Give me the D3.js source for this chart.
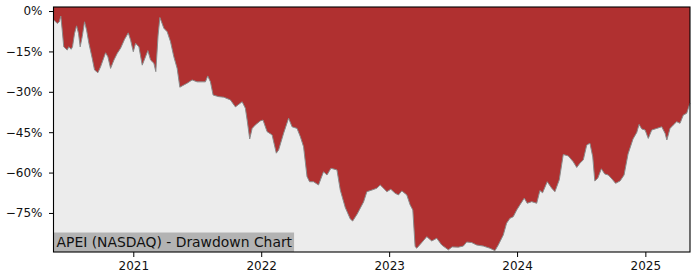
<!DOCTYPE html>
<html>
<head>
<meta charset="utf-8">
<script src="https://cdn.jsdelivr.net/npm/d3@7"></script>
<style>
  html, body { margin: 0; padding: 0; background: #ffffff; }
  svg { display: block; }
  text { font-family: "DejaVu Sans", sans-serif; }
</style>
</head>
<body>
<svg id="chart" width="700" height="280"></svg>
<script>
// Decimal-year dates of sampled points
const dates = [
  2020.380, 2020.407, 2020.423, 2020.435, 2020.446, 2020.458, 2020.485, 2020.497, 2020.516, 2020.526,
  2020.542, 2020.558, 2020.573, 2020.586, 2020.602, 2020.620, 2020.636, 2020.654, 2020.680, 2020.698,
  2020.724, 2020.745, 2020.784, 2020.802, 2020.823, 2020.849, 2020.875, 2020.901, 2020.932, 2020.961,
  2020.979, 2021.000, 2021.018, 2021.044, 2021.070, 2021.114, 2021.135, 2021.161, 2021.176, 2021.194,
  2021.208, 2021.239, 2021.265, 2021.291, 2021.317, 2021.343, 2021.364, 2021.382, 2021.421, 2021.460,
  2021.499, 2021.538, 2021.564, 2021.582, 2021.603, 2021.624, 2021.668, 2021.707, 2021.759, 2021.798,
  2021.851, 2021.876, 2021.890, 2021.910, 2021.929, 2021.954, 2021.993, 2022.014, 2022.046, 2022.085,
  2022.118, 2022.136, 2022.175, 2022.214, 2022.241, 2022.280, 2022.306, 2022.331, 2022.358, 2022.378,
  2022.409, 2022.448, 2022.487, 2022.514, 2022.545, 2022.592, 2022.618, 2022.657, 2022.696, 2022.715,
  2022.750, 2022.800, 2022.826, 2022.865, 2022.904, 2022.930, 2022.956, 2022.982, 2023.013, 2023.047,
  2023.073, 2023.099, 2023.138, 2023.164, 2023.185, 2023.203, 2023.216, 2023.255, 2023.294, 2023.333,
  2023.372, 2023.411, 2023.463, 2023.492, 2023.541, 2023.580, 2023.606, 2023.645, 2023.684, 2023.736,
  2023.788, 2023.827, 2023.853, 2023.892, 2023.918, 2023.944, 2023.970, 2023.997, 2024.022, 2024.056,
  2024.079, 2024.114, 2024.153, 2024.178, 2024.199, 2024.235, 2024.270, 2024.295, 2024.329, 2024.360,
  2024.399, 2024.438, 2024.465, 2024.490, 2024.516, 2024.543, 2024.568, 2024.590, 2024.606, 2024.629,
  2024.657, 2024.683, 2024.711, 2024.740, 2024.768, 2024.803, 2024.834, 2024.865, 2024.904, 2024.933,
  2024.951, 2024.972, 2024.998, 2025.023, 2025.050, 2025.089, 2025.128, 2025.154, 2025.168, 2025.193,
  2025.219, 2025.245, 2025.271, 2025.297, 2025.323, 2025.336, 2025.349
];
// Drawdown in percent
const drawdown = [
  -3.3, -4.6, -4.0, -1.9, -7.1, -13.3, -14.5, -13.3, -14.2, -13.3,
  -8.3, -5.5, -8.3, -13.3, -9.5, -4.0, -7.1, -12.0, -17.6, -21.9,
  -22.9, -20.7, -15.5, -17.0, -21.3, -18.2, -15.7, -13.8, -10.5, -8.1,
  -10.8, -15.1, -12.0, -13.3, -20.1, -14.7, -18.2, -19.4, -22.5, -8.9,
  -2.4, -6.4, -7.7, -11.4, -17.0, -21.3, -28.3, -27.8, -26.8, -25.6,
  -26.3, -26.3, -26.3, -24.1, -26.3, -31.2, -31.8, -32.0, -33.0, -35.6,
  -33.7, -36.1, -40.5, -47.5, -43.6, -42.3, -40.8, -40.5, -44.8, -46.0,
  -52.8, -51.6, -45.4, -39.8, -43.0, -43.6, -46.7, -50.4, -61.5, -63.4,
  -63.4, -64.6, -59.7, -60.9, -58.4, -59.0, -66.5, -73.0, -77.2, -78.0,
  -75.4, -70.9, -67.1, -66.5, -65.8, -64.6, -65.8, -67.1, -66.2, -67.7,
  -68.3, -66.8, -68.3, -72.0, -73.9, -87.5, -88.1, -86.0, -83.8, -85.4,
  -84.4, -86.9, -88.7, -87.6, -87.7, -87.3, -85.8, -86.0, -86.9, -87.3,
  -88.1, -89.0, -86.9, -83.2, -78.8, -77.0, -76.4, -73.9, -72.0, -69.5,
  -71.4, -70.8, -71.4, -66.7, -67.5, -63.4, -65.8, -67.1, -62.7, -53.3,
  -53.8, -56.0, -58.1, -56.5, -55.3, -49.8, -49.1, -54.2, -63.1, -62.1,
  -58.6, -60.5, -60.9, -62.4, -64.0, -63.1, -60.9, -53.1, -47.5, -45.1,
  -42.1, -43.8, -44.2, -47.3, -44.2, -43.6, -43.0, -45.4, -47.9, -43.6,
  -42.3, -41.1, -41.7, -38.6, -38.0, -36.1, -34.2
];
const yTicks = [0, -15, -30, -45, -60, -75];
const xTickYears = [2021, 2022, 2023, 2024, 2025];
const yDomain = [-89.5, 1.5];
const xStart = 2020.378, xEnd = 2025.349;
const title = "APEI (NASDAQ) - Drawdown Chart";

function toDate(t) {
  const y = Math.floor(t);
  const s = new Date(y, 0, 1), e = new Date(y + 1, 0, 1);
  return new Date(+s + (t - y) * (e - s));
}

const data = dates.map((d, i) => ({ date: toDate(d), v: drawdown[i] }));

const L = 53.5, R = 690, T = 7, B = 252;
const svg = d3.select("#chart");

const x = d3.scaleTime().domain([toDate(xStart), toDate(xEnd)]).range([L, R]);
const y = d3.scaleLinear().domain(yDomain).range([B, T]);

// Red background of the plot area
svg.append("rect").attr("x", L).attr("y", T).attr("width", R - L).attr("height", B - T)
  .attr("fill", "#b03030");

// Light gray area below the drawdown curve
const area = d3.area().x(d => x(d.date)).y0(B).y1(d => y(d.v));
svg.append("path").datum(data).attr("d", area).attr("fill", "#ececec");

const line = d3.line().x(d => x(d.date)).y(d => y(d.v));
svg.append("path").datum(data).attr("d", line).attr("fill", "none")
  .attr("stroke", "#8a8a8a").attr("stroke-width", 1);

// Title box
const tg = svg.append("g");
const tt = tg.append("text").attr("x", L + 3).attr("y", B - 5.3)
  .attr("font-size", 13.9).attr("fill", "#111").text(title);
const tw = tt.node().getComputedTextLength();
tg.insert("rect", "text").attr("x", L).attr("y", B - 19.5).attr("width", tw + 5).attr("height", 19.5)
  .attr("fill", "#b3b3b3");

// Axes
const yAxis = d3.axisLeft(y).tickValues(yTicks).tickSize(4.5).tickPadding(6.5)
  .tickFormat(d => d3.format("d")(d) + "%");
const gy = svg.append("g").attr("transform", `translate(${L},0)`).call(yAxis);
gy.select(".domain").remove();
gy.selectAll("text").attr("font-size", 12).attr("fill", "#111").attr("font-family", "DejaVu Sans");

const xAxis = d3.axisBottom(x).tickValues(xTickYears.map(yr => new Date(yr, 0, 1)))
  .tickSize(5).tickPadding(4).tickFormat(d3.timeFormat("%Y"));
const gx = svg.append("g").attr("transform", `translate(0,${B})`).call(xAxis);
gx.select(".domain").remove();
gx.selectAll("text").attr("font-size", 12).attr("fill", "#111").attr("font-family", "DejaVu Sans");

// Frame
svg.append("rect").attr("x", L).attr("y", T).attr("width", R - L).attr("height", B - T)
  .attr("fill", "none").attr("stroke", "#000").attr("stroke-width", 1.1);
</script>
</body>
</html>
